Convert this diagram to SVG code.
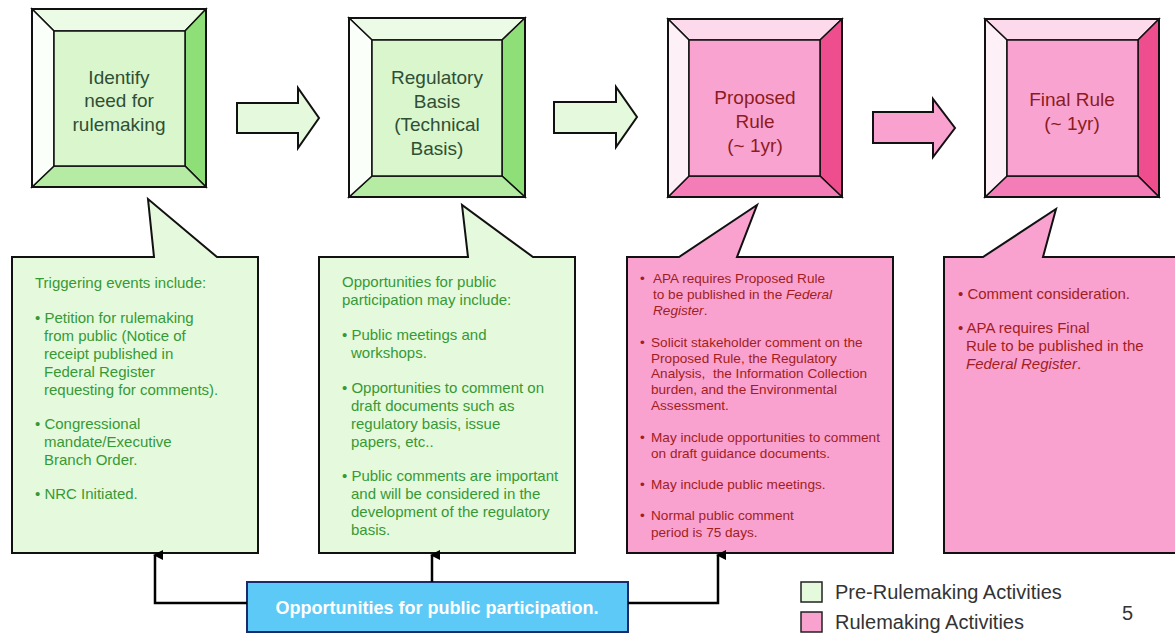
<svg xmlns="http://www.w3.org/2000/svg" width="1175" height="633" viewBox="0 0 1175 633">
<style>
text{font-family:"Liberation Sans",Arial,sans-serif}
.ol{stroke:#111;stroke-width:2;stroke-linejoin:miter}
.bv{stroke:#111;stroke-width:1.5}
.gT{fill:#ecfbe5}.gL{fill:#fbfffa}.gB{fill:#b6eba4}.gR{fill:#8fdf78}.gF{fill:#d9f6cd}
.pT{fill:#fcd9eb}.pL{fill:#fdf1f7}.pB{fill:#f57db7}.pR{fill:#ef4e8e}.pF{fill:#f9a4d0}
.gt{font-size:19px;fill:#2f4f35;text-anchor:middle}
.pt{font-size:19px;fill:#8c1b22;text-anchor:middle}
.gc{fill:#e5f9dc}
.pc{fill:#f9a2cf}
.g15{font-size:15px;fill:#359a35}
.p14{font-size:13.6px;fill:#a11d22}
.p15{font-size:15px;fill:#a11d22}
.con{fill:none;stroke:#000;stroke-width:2.5}
.lg{font-size:20px;fill:#333}
</style>
<defs>
<marker id="ah" markerUnits="userSpaceOnUse" markerWidth="10" markerHeight="10" viewBox="0 0 10 10" refX="5" refY="2" orient="auto-start-reverse">
<path d="M0,10 L5,0 L10,10 Z" fill="#000"/>
</marker>
</defs>

<g id="box1">
<polygon class="gT bv" points="32,9 206,9 185,31 54,31"/>
<polygon class="gR bv" points="206,9 206,187 185,166 185,31"/>
<polygon class="gB bv" points="32,187 206,187 185,166 54,166"/>
<polygon class="gL bv" points="32,9 54,31 54,166 32,187"/>
<rect class="gF bv" x="54" y="31" width="131" height="135"/>
<rect class="ol" x="32" y="9" width="174" height="178" fill="none"/>
<text class="gt" x="119" y="84">Identify</text>
<text class="gt" x="119" y="107">need for</text>
<text class="gt" x="119" y="131">rulemaking</text>
</g>

<g id="box2">
<polygon class="gT bv" points="349,18 525,18 502,40 372,40"/>
<polygon class="gR bv" points="525,18 525,197 502,176 502,40"/>
<polygon class="gB bv" points="349,197 525,197 502,176 372,176"/>
<polygon class="gL bv" points="349,18 372,40 372,176 349,197"/>
<rect class="gF bv" x="372" y="40" width="130" height="136"/>
<rect class="ol" x="349" y="18" width="176" height="179" fill="none"/>
<text class="gt" x="437" y="84">Regulatory</text>
<text class="gt" x="437" y="108">Basis</text>
<text class="gt" x="437" y="131">(Technical</text>
<text class="gt" x="437" y="155">Basis)</text>
</g>

<g id="box3">
<polygon class="pT bv" points="668,19 842,19 820,40 689,40"/>
<polygon class="pR bv" points="842,19 842,197 820,176 820,40"/>
<polygon class="pB bv" points="668,197 842,197 820,176 689,176"/>
<polygon class="pL bv" points="668,19 689,40 689,176 668,197"/>
<rect class="pF bv" x="689" y="40" width="131" height="136"/>
<rect class="ol" x="668" y="19" width="174" height="178" fill="none"/>
<text class="pt" x="755" y="104">Proposed</text>
<text class="pt" x="755" y="128">Rule</text>
<text class="pt" x="755" y="152">(~ 1yr)</text>
</g>

<g id="box4">
<polygon class="pT bv" points="985,19 1159,19 1138,40 1007,40"/>
<polygon class="pR bv" points="1159,19 1159,197 1138,176 1138,40"/>
<polygon class="pB bv" points="985,197 1159,197 1138,176 1007,176"/>
<polygon class="pL bv" points="985,19 1007,40 1007,176 985,197"/>
<rect class="pF bv" x="1007" y="40" width="131" height="136"/>
<rect class="ol" x="985" y="19" width="174" height="178" fill="none"/>
<text class="pt" x="1072" y="106">Final Rule</text>
<text class="pt" x="1072" y="130">(~ 1yr)</text>
</g>

<g id="arrow1">
<polygon class="gc ol" points="237,103 298,103 298,88 319,118 298,148 298,133 237,133"/>
</g>
<g id="arrow2">
<polygon class="gc ol" points="554,102 616,102 616,87 637,117 616,147 616,133 554,133"/>
</g>
<g id="arrow3">
<polygon class="pc ol" points="873,112 933,112 933,99 955,128 933,157 933,143 873,143"/>
</g>

<g id="callout1">
<path class="gc ol" d="M12,257 H154 L148,199 L217,257 H258 V553 H12 Z"/>
<text class="g15" x="35" y="288">Triggering events include:</text>
<text class="g15" x="35" y="323">• Petition for rulemaking</text>
<text class="g15" x="44" y="341">from public (Notice of</text>
<text class="g15" x="44" y="359">receipt published in</text>
<text class="g15" x="44" y="377">Federal Register</text>
<text class="g15" x="44" y="395">requesting for comments).</text>
<text class="g15" x="35" y="429">• Congressional</text>
<text class="g15" x="44" y="447">mandate/Executive</text>
<text class="g15" x="44" y="465">Branch Order.</text>
<text class="g15" x="35" y="499">• NRC Initiated.</text>
</g>

<g id="callout2">
<path class="gc ol" d="M319,257 H468 L462,205 L533,257 H575 V553 H319 Z"/>
<text class="g15" x="342" y="287">Opportunities for public</text>
<text class="g15" x="342" y="305">participation may include:</text>
<text class="g15" x="342" y="340">• Public meetings and</text>
<text class="g15" x="351" y="358">workshops.</text>
<text class="g15" x="342" y="393">• Opportunities to comment on</text>
<text class="g15" x="351" y="411">draft documents such as</text>
<text class="g15" x="351" y="429">regulatory basis, issue</text>
<text class="g15" x="351" y="447">papers, etc..</text>
<text class="g15" x="342" y="481">• Public comments are important</text>
<text class="g15" x="351" y="499">and will be considered in the</text>
<text class="g15" x="351" y="517">development of the regulatory</text>
<text class="g15" x="351" y="535">basis.</text>
</g>

<g id="callout3">
<path class="pc ol" d="M627,257 H679 L757,205 L737,257 H893 V553 H627 Z"/>
<text class="p14" x="640" y="283">•</text>
<text class="p14" x="653" y="283">APA requires Proposed Rule</text>
<text class="p14" x="653" y="299">to be published in the <tspan font-style="italic">Federal</tspan></text>
<text class="p14" x="653" y="315"><tspan font-style="italic">Register</tspan>.</text>
<text class="p14" x="640" y="347">•</text>
<text class="p14" x="651" y="347">Solicit stakeholder comment on the</text>
<text class="p14" x="651" y="363">Proposed Rule, the Regulatory</text>
<text class="p14" x="651" y="378" xml:space="preserve">Analysis,  the Information Collection</text>
<text class="p14" x="651" y="394">burden, and the Environmental</text>
<text class="p14" x="651" y="410">Assessment.</text>
<text class="p14" x="640" y="442">•</text>
<text class="p14" x="651" y="442">May include opportunities to comment</text>
<text class="p14" x="651" y="458">on draft guidance documents.</text>
<text class="p14" x="640" y="489">•</text>
<text class="p14" x="651" y="489">May include public meetings.</text>
<text class="p14" x="640" y="520">•</text>
<text class="p14" x="651" y="520">Normal public comment</text>
<text class="p14" x="651" y="537">period is 75 days.</text>
</g>

<g id="callout4">
<path class="pc ol" d="M944,257 H983 L1056,209 L1043,257 H1178 V553 H944 Z"/>
<text class="p15" x="958" y="299">• Comment consideration.</text>
<text class="p15" x="958" y="333">• APA requires Final</text>
<text class="p15" x="966" y="351">Rule to be published in the</text>
<text class="p15" x="966" y="369"><tspan font-style="italic">Federal Register</tspan>.</text>
</g>

<g id="participation">
<rect x="247" y="582" width="381" height="50" fill="#5cc9f6" stroke="#1b2a6b" stroke-width="2"/>
<text x="437" y="614" font-size="18" font-weight="bold" fill="#fff" text-anchor="middle">Opportunities for public participation.</text>
</g>

<g id="connectors">
<path class="con" d="M247,603 H155 V555" marker-end="url(#ah)"/>
<path class="con" d="M432,582 V555" marker-end="url(#ah)"/>
<path class="con" d="M628,603 H718 V555" marker-end="url(#ah)"/>
</g>

<g id="legend">
<rect x="801" y="582" width="21" height="20" fill="#e5f9dc" stroke="#222" stroke-width="1.5"/>
<text class="lg" x="835" y="599">Pre-Rulemaking Activities</text>
<rect x="801" y="612" width="21" height="20" fill="#f9a2cf" stroke="#222" stroke-width="1.5"/>
<text class="lg" x="835" y="629">Rulemaking Activities</text>
<text class="lg" x="1122" y="620">5</text>
</g>
</svg>
